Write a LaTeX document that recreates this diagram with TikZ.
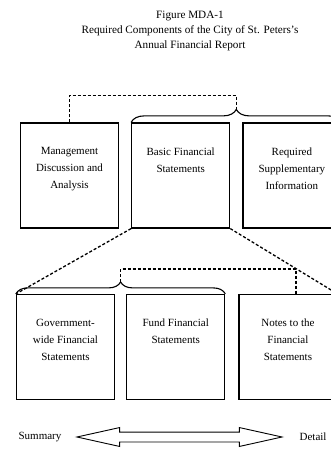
\documentclass[tikz,border=0pt]{standalone}
\usepackage{fontspec}
\setmainfont{Liberation Serif}
\usetikzlibrary{arrows.meta, positioning, calc, decorations.pathreplacing, shapes.arrows}

\begin{document}
\begin{tikzpicture}[x=1pt, y=-1pt, >=Stealth, font=\fontsize{11}{17}\selectfont,
  box/.style={draw, line width=1.2pt, minimum width=98pt, minimum height=105pt, inner sep=0pt},
  boxtext/.style={anchor=north, align=center, inner sep=0pt, yshift=-25pt},
  dashline/.style={line width=1.3pt, dash pattern=on 3pt off 2pt},
  bracket/.style={line width=1.1pt, decorate, decoration={brace, amplitude=#1}}]
  \clip (0,0) rectangle (331,454);
  % Titel
  \node[align=center, font=\fontsize{11.2}{15}\selectfont] (title) at (190,31)
    {Figure MDA-1\\Required Components of the City of St. Peters's\\Annual Financial Report};
  % obere Reihe
  \node[box] (mda) at (69.5,175.5) {};
  \node[box, right=12pt of mda] (bfs) {};
  \node[box, right=12pt of bfs] (rsi) {};
  \node[boxtext] (mdatxt) at (mda.north) {Management\\Discussion and\\Analysis};
  \node[boxtext] (bfstxt) at (bfs.north) {Basic Financial\\Statements};
  \node[boxtext] (rsitxt) at (rsi.north) {Required\\Supplementary\\Information};
  % untere Reihe
  \node[box] (gwfs) at (65.5,347) {};
  \node[box, right=11pt of gwfs] (ffs) {};
  \node[box, right=13pt of ffs] (nfs) {};
  \node[boxtext] (gwfstxt) at (gwfs.north) {Government-\\wide Financial\\Statements};
  \node[boxtext] (ffstxt) at (ffs.north) {Fund Financial\\Statements};
  \node[boxtext] (nfstxt) at (nfs.north) {Notes to the\\Financial\\Statements};
  % Klammern
  \draw[bracket=13] (bfs.north west) -- (rsi.north east);
  \coordinate (tip1) at ($(bfs.north west)!.5!(rsi.north east)+(0,-13)$);
  \draw[bracket=12] (gwfs.north west) -- (ffs.north east);
  \coordinate (tip2) at ($(gwfs.north west)!.5!(ffs.north east)+(0,-12)$);
  % gestrichelte Verbindungen
  \draw[dashline] (mda.north) |- ([yshift=14pt]tip1) -- (tip1);
  \draw[dashline] (tip2) -- ([yshift=13pt]tip2) -| ([xshift=8pt]nfs.north);
  \draw[dashline] (bfs.south west) -- (gwfs.north west);
  \draw[dashline] (bfs.south east) -- (nfs.north east);
  % Pfeil Summary - Detail
  \node[double arrow, draw, line width=0.9pt, minimum height=205pt, minimum width=18pt,
    double arrow head extend=4.5pt, double arrow tip angle=25, inner xsep=0pt, inner ysep=4.5pt] (range) at (179.5,437) {};
  \node[left=10pt of range] (sum) {Summary};
  \node[right=12pt of range] (det) {Detail};
\end{tikzpicture}
\end{document}
